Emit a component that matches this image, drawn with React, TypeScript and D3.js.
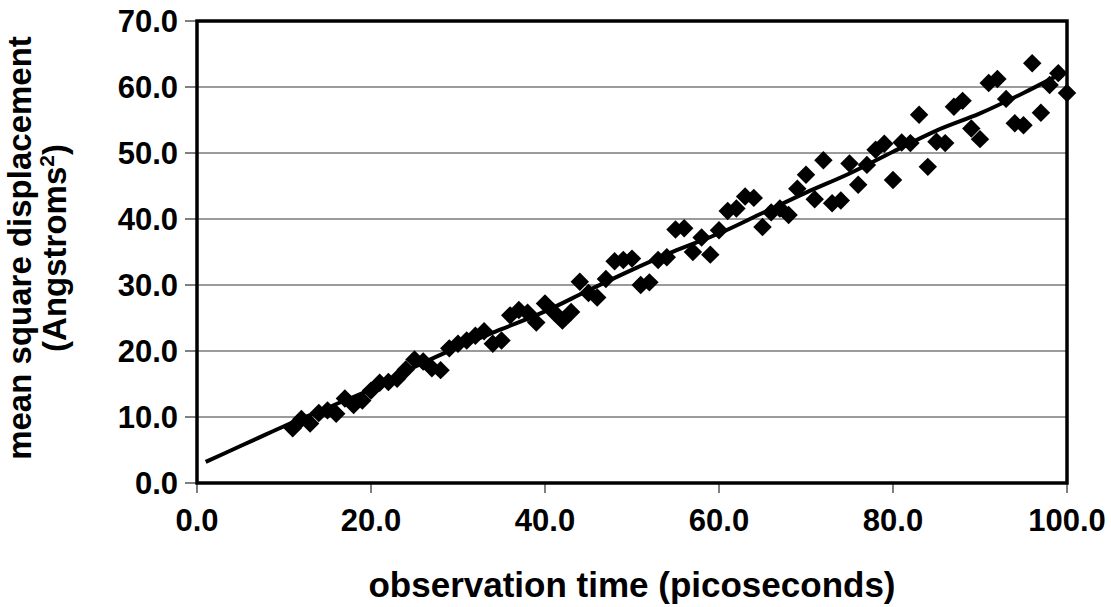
import React from 'react'
import * as d3 from 'd3'

// observation time (ps) of each measured point
const times = d3.range(11, 101)

// measured mean square displacement, one per time step
const msd = [
  8.3, 9.7, 9.0, 10.6, 11.0, 10.5, 12.8, 11.8, 12.5, 14.0,
  15.2, 15.3, 15.8, 17.2, 18.7, 18.4, 17.4, 17.1, 20.4, 21.1,
  21.6, 22.3, 23.0, 21.1, 21.6, 25.4, 26.2, 25.8, 24.3, 27.2,
  25.9, 24.6, 25.9, 30.5, 28.8, 28.1, 30.9, 33.6, 33.8, 34.0,
  30.0, 30.4, 33.8, 34.2, 38.4, 38.6, 35.0, 37.2, 34.6, 38.3,
  41.2, 41.6, 43.4, 43.2, 38.8, 41.0, 41.6, 40.6, 44.6, 46.7,
  43.0, 48.9, 42.4, 42.8, 48.4, 45.2, 48.2, 50.5, 51.4, 45.9,
  51.6, 51.5, 55.8, 47.9, 51.7, 51.5, 57.0, 57.9, 53.7, 52.1,
  60.6, 61.2, 58.2, 54.5, 54.2, 63.6, 56.1, 60.3, 62.1, 59.1,
]

// model curve
const fitTimes = [1, 5, 7, 10, 15, 20, 25, 30, 35, 40, 45, 50, 55, 60, 65, 70, 75, 80, 85, 90, 95, 99]
const fitMsd = [3.2, 5.6, 6.8, 8.6, 11.4, 14.2, 17.6, 20.6, 23.3, 26.0, 29.2, 32.3, 35.2, 37.8, 40.9, 44.0, 46.9, 50.2, 53.4, 56.0, 59.1, 61.8]

const xTicks = [0, 20, 40, 60, 80, 100]
const yTicks = [0, 10, 20, 30, 40, 50, 60, 70]

const W = 1111
const H = 607
const m = { left: 197, right: 1067, top: 21, bottom: 483 }
const font = '"Liberation Sans", Arial, sans-serif'

export default function App() {
  const x = d3.scaleLinear().domain([0, 100]).range([m.left, m.right])
  const y = d3.scaleLinear().domain([0, 70]).range([m.bottom, m.top])

  const line = d3
    .line<number>()
    .x((_, i) => x(fitTimes[i]))
    .y(d => y(d))
    .curve(d3.curveMonotoneX)

  const diamond = d3.symbol(d3.symbolSquare, 170)()

  return (
    <svg
      width={W}
      height={H}
      style={{ position: 'absolute', left: 0, top: 0, background: '#fff' }}
      fontFamily={font}
      fontWeight="bold"
    >
      {yTicks.slice(1, -1).map(t => (
        <line key={t} x1={m.left} x2={m.right} y1={y(t)} y2={y(t)} stroke="#7a7a7a" strokeWidth={1.5} />
      ))}
      {yTicks.map(t => (
        <g key={t}>
          <line x1={m.left - 12} x2={m.left} y1={y(t)} y2={y(t)} stroke="#555" strokeWidth={1.5} />
          <text x={m.left - 19} y={y(t)} dy="0.36em" textAnchor="end" fontSize={31}>
            {t.toFixed(1)}
          </text>
        </g>
      ))}
      {xTicks.map(t => (
        <g key={t}>
          <line x1={x(t)} x2={x(t)} y1={m.bottom} y2={m.bottom + 10} stroke="#555" strokeWidth={1.5} />
          <text x={x(t)} y={m.bottom + 48} textAnchor="middle" fontSize={31}>
            {t.toFixed(1)}
          </text>
        </g>
      ))}
      <path d={line(fitMsd) || ''} fill="none" stroke="#000" strokeWidth={4} />
      {msd.map((v, i) => (
        <path key={i} d={diamond || ''} transform={`translate(${x(times[i])},${y(v)}) rotate(45)`} fill="#000" />
      ))}
      <rect
        x={m.left}
        y={m.top}
        width={m.right - m.left}
        height={m.bottom - m.top}
        fill="none"
        stroke="#000"
        strokeWidth={3.5}
      />
      <text x={632} y={597} textAnchor="middle" fontSize={35}>
        observation time (picoseconds)
      </text>
      <g transform={`translate(31,${(m.top + m.bottom) / 2 - 4}) rotate(-90)`} fontSize={33} textAnchor="middle">
        <text x={0} y={0}>mean square displacement</text>
        <text x={0} y={35}>
          (Angstroms<tspan dy={-12} fontSize={21}>2</tspan>
          <tspan dy={12}>)</tspan>
        </text>
      </g>
    </svg>
  )
}
